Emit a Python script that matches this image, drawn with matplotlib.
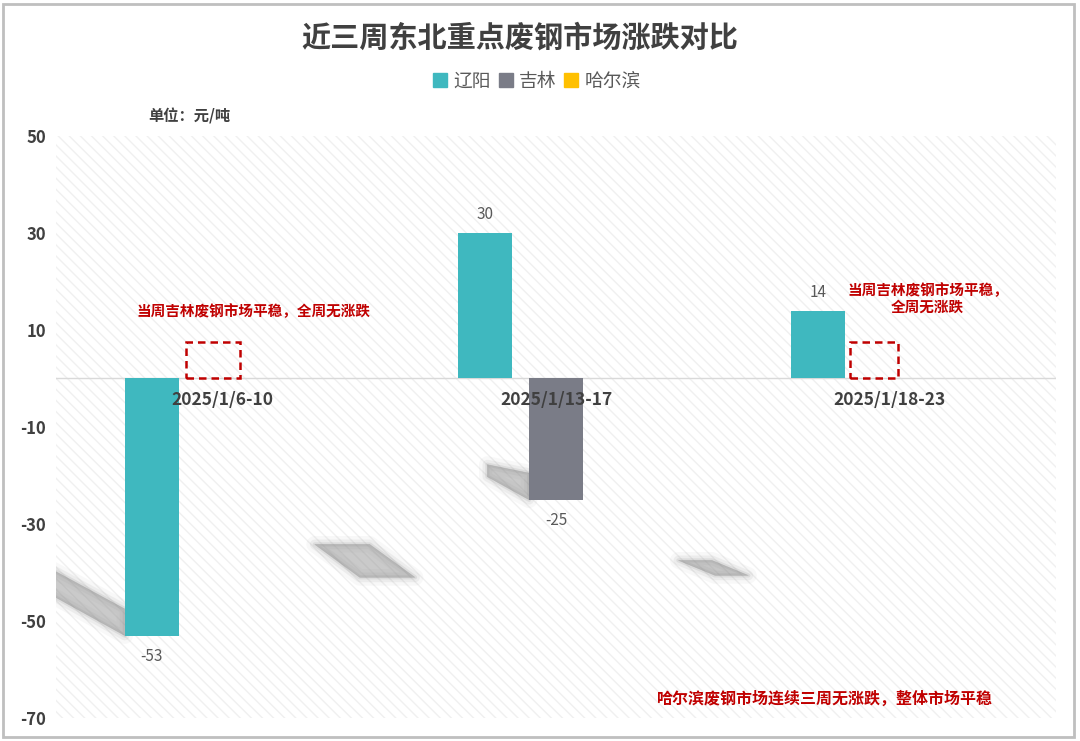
import numpy as np
import matplotlib.pyplot as plt
from matplotlib.patches import Polygon, Rectangle
from matplotlib.lines import Line2D

plt.rcParams['font.family'] = ['Noto Sans CJK SC', 'DejaVu Sans']
plt.rcParams['hatch.color'] = '#f0f0f0'
plt.rcParams['hatch.linewidth'] = 1.0

# data
weeks = ['2025/1/6-10', '2025/1/13-17', '2025/1/18-23']
series = ['辽阳', '吉林', '哈尔滨']
liaoyang = [-53, 30, 14]
jilin = [0, -25, 0]
harbin = [0, 0, 0]
colors = ['#3fb8bf', '#7a7c87', '#ffc000']
yticks = [50, 30, 10, -10, -30, -50, -70]

values = [liaoyang, jilin, harbin]
bar_w = 0.162
offsets = [-0.213, 0, 0.213]

fig = plt.figure(figsize=(10.8, 7.41), dpi=100)
ax = fig.add_axes([0.0519, 0.031, 0.9259, 0.7855])
ax.set_xlim(-0.5, 2.5)
ax.set_ylim(-70, 50)
ax.patch.set_facecolor('white')
ax.patch.set_hatch('\\\\\\')
ax.patch.set_edgecolor('#f0f0f0')
ax.patch.set_linewidth(0)
for sp in ax.spines.values():
    sp.set_visible(False)

x = np.arange(len(weeks))


def soft_poly(pts):
    # crude blurred shadow: stacked translucent polygons
    for lw, a in [(12, 0.06), (7, 0.10), (3, 0.16), (0.5, 0.22)]:
        ax.add_patch(Polygon(pts, closed=True, fc='#8c8c8c', ec='#8c8c8c',
                             lw=lw, alpha=a, joinstyle='round', zorder=1))


# shadows under the negative bars
for s, vals in enumerate(values):
    for i, v in enumerate(vals):
        if v < 0:
            xl = x[i] + offsets[s] - bar_w / 2
            a = abs(v)
            soft_poly([(xl - 0.005 * a, v + 0.29 * a), (xl, v + 5.5),
                       (xl, v), (xl - 0.005 * a, v + 0.19 * a)])

# floating shadows (relative to group centre)
floating = {0: [(0.276, -34.2), (0.441, -34.2), (0.577, -41.0), (0.411, -41.0)],
            1: [(0.367, -37.5), (0.468, -37.5), (0.577, -40.6), (0.477, -40.6)]}
for g, pts in floating.items():
    soft_poly([(x[g] + dx, y) for dx, y in pts])

ax.axhline(0, color='#d9d9d9', lw=1, zorder=2)

for s, vals in enumerate(values):
    ax.bar(x + offsets[s], vals, width=bar_w, color=colors[s], zorder=3)
    for i, v in enumerate(vals):
        if v != 0:
            ax.annotate(str(v), (x[i] + offsets[s], v), xytext=(0, 7 if v > 0 else -9),
                        textcoords='offset points', ha='center',
                        va='bottom' if v > 0 else 'top', fontsize=11, color='#595959')

for i, w in enumerate(weeks):
    ax.annotate(w, (x[i], 0), xytext=(0, -9), textcoords='offset points', ha='center',
                va='top', fontsize=12.5, fontweight='bold', color='#404040', zorder=4)

ax.set_xticks([])
ax.set_yticks(yticks)
ax.set_yticklabels([str(t) for t in yticks], fontsize=12, fontweight='bold', color='#404040')
ax.tick_params(axis='y', length=0, pad=7)

# dashed boxes marking flat Jilin weeks
for gx, x0, x1 in [(0, -0.111, 0.051), (2, -0.117, 0.027)]:
    ax.add_patch(Rectangle((x[gx] + x0, 0), x1 - x0, 7.6, fill=False, ec='#c00000',
                           lw=1.8, ls=(0, (3, 2)), zorder=4))

red = '#c00000'
ax.text(0.093, 14.0, '当周吉林废钢市场平稳，全周无涨跌', ha='center', va='center',
        fontsize=10.5, fontweight='bold', color=red)
ax.text(2.115, 16.6, '当周吉林废钢市场平稳，\n全周无涨跌', ha='center', va='center',
        fontsize=10.5, fontweight='bold', color=red, linespacing=1.05)
ax.text(1.807, -66.0, '哈尔滨废钢市场连续三周无涨跌，整体市场平稳', ha='center', va='center',
        fontsize=11.5, fontweight='bold', color=red)

fig.text(0.481, 1 - 38 / 741, '近三周东北重点废钢市场涨跌对比', ha='center', va='center',
         fontsize=21, fontweight='bold', color='#404040')
fig.text(0.137, 1 - 116 / 741, '单位：元/吨', ha='left', va='center',
         fontsize=11, fontweight='bold', color='#404040')

handles = [Line2D([], [], marker='s', ls='', ms=10, color=c) for c in colors]
fig.legend(handles, series, loc='center', bbox_to_anchor=(0.497, 1 - 81 / 741), ncol=3,
           frameon=False, fontsize=13.5, handlelength=0.8, handletextpad=0.3,
           columnspacing=0.4, labelcolor='#595959')

fig.add_artist(Rectangle((0.003, 0.005), 0.991, 0.99, transform=fig.transFigure,
                         fill=False, ec='#bfbfbf', lw=2))

fig.savefig('out.png', dpi=100)
